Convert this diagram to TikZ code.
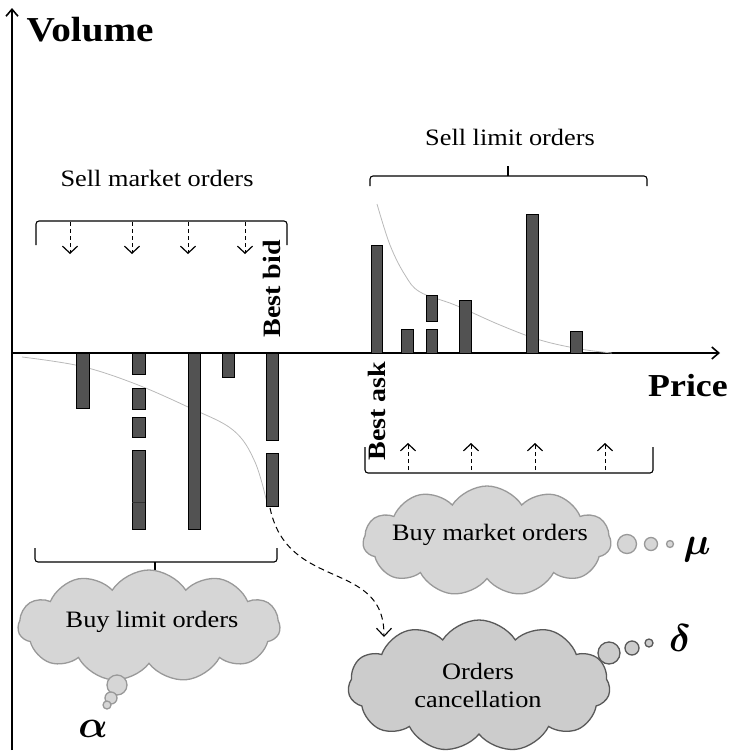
\documentclass[tikz,border=0pt]{standalone}
\usepackage{amsmath}
\usepackage{fontspec}
\setmainfont[FakeStretch=1.12]{Liberation Serif}
\usetikzlibrary{arrows.meta,shapes.symbols}
\newcommand{\bigsym}[1]{\scalebox{1.55}{\fontsize{24}{24}\selectfont$\boldsymbol{#1}$}}
\begin{document}
\begin{tikzpicture}[x=1pt,y=-1pt,
  axis/.style={line width=1.8pt,-{Straight Barb[length=7pt,width=12pt,line width=1.6pt]}},
  bar/.style={draw=black,fill=black!68,line width=0.8pt},
  lbl/.style={font=\rmfamily\fontsize{23.5}{28}\selectfont,align=center},
  bl/.style={font=\bfseries\fontsize{25}{28}\selectfont},
  bracket/.style={line width=1.1pt,rounded corners=3pt},
  darr/.style={dash pattern=on 4pt off 3pt,line width=1pt,-{Straight Barb[length=7pt,width=15pt,line width=1.2pt]}},
  carr/.style={dash pattern=on 6pt off 4pt,line width=1pt,-{Straight Barb[length=8pt,width=15pt,line width=1.1pt]}},
  trend/.style={gray!55,line width=0.8pt},
  cloudA/.style={cloud,cloud puffs=11,cloud puff arc=115,cloud ignores aspect,draw=black!40,fill=black!16,line width=1.3pt,inner sep=0pt},
  cloudB/.style={cloud,cloud puffs=11,cloud puff arc=115,cloud ignores aspect,draw=black!65,fill=black!20,line width=1.3pt,inner sep=0pt},
  bubA/.style={circle,draw=black!40,fill=black!16,line width=1.3pt,inner sep=0pt},
  bubB/.style={circle,draw=black!65,fill=black!20,line width=1.3pt,inner sep=0pt},
  greek/.style={inner sep=0pt}
]
\useasboundingbox (0,0) rectangle (737,755);

% axes
\coordinate (o) at (12,353);
\coordinate (ytop) at (12,8);
\coordinate (ybot) at (12,750);
\coordinate (xend) at (720,353);
\draw[axis] (ybot) -- (ytop);
\draw[axis] (o) -- (xend);
\node[font=\bfseries\fontsize{35}{35}\selectfont,anchor=west] (vol) at (23,30) {Volume};
\node[font=\bfseries\fontsize{32}{32}\selectfont] (price) at (688,386) {Price};

% trend curves
\draw[trend] plot[smooth,tension=0.6] coordinates {(22,357) (80,366) (133,383) (188,407) (233,430) (255,462) (268,507)};
\draw[trend] plot[smooth,tension=0.6] coordinates {(377,204) (390,245) (405,275) (420,292) (455,305) (500,325) (540,340) (580,349) (612,353)};

% buy limit bars (below axis)
\draw[bar] (76,353) rectangle (89,408);
\draw[bar] (132,353) rectangle (145,374);
\draw[bar] (132,388) rectangle (145,409);
\draw[bar] (132,417) rectangle (145,437);
\draw[bar] (132,450) rectangle (145,529);
\draw[black!80,line width=0.6pt] (132,502) -- (145,502);
\draw[bar] (188,353) rectangle (200,529);
\draw[bar] (222,353) rectangle (234,377);
\draw[bar] (266,353) rectangle (278,440);
\draw[bar] (266,453) rectangle (278,506);

% sell limit bars (above axis)
\draw[bar] (371,245) rectangle (382,353);
\draw[bar] (401,329) rectangle (413,353);
\draw[bar] (426,295) rectangle (437,321);
\draw[bar] (426,329) rectangle (437,353);
\draw[bar] (459,300) rectangle (471,353);
\draw[bar] (526,214) rectangle (538,353);
\draw[bar] (570,331) rectangle (582,353);

% sell market orders
\node[lbl] (smo) at (157,178) {Sell market orders};
\draw[bracket] (36,245) -- (36,221) -- (287,221) -- (287,245);
\foreach \x/\n in {70/a,132/b,188/c,245/d}{
  \coordinate (sm\n t) at (\x,222);
  \coordinate (sm\n b) at (\x,254);
  \draw[darr] (sm\n t) -- (sm\n b);
}
\node[bl,rotate=90] (bestbid) at (272,289) {Best bid};

% sell limit orders
\node[lbl] (slo) at (510,137) {Sell limit orders};
\draw[bracket] (370,186) -- (370,176) -- (647,176) -- (647,186);
\draw[line width=1.1pt] (508,176) -- (508,166);

% best ask
\node[bl,rotate=90] (bestask) at (377,411) {Best ask};

% buy market orders bracket
\draw[bracket] (365,447) -- (365,473) -- (653,473) -- (653,447);
\foreach \x/\n in {408/a,471/b,535/c,605/d}{
  \coordinate (bm\n b) at (\x,470);
  \coordinate (bm\n t) at (\x,443);
  \draw[darr] (bm\n b) -- (bm\n t);
}

% buy limit orders bracket
\draw[bracket] (35,548) -- (35,562) -- (277,562) -- (277,548);
\draw[line width=1.1pt] (155,562) -- (155,574);

% clouds
\node[cloudA,minimum width=262pt,minimum height=112pt] (blo) at (149,626) {};
\node[lbl] (blot) at (152,622) {Buy limit orders};
\node[bubA,minimum size=20pt] (ba1) at (117,685) {};
\node[bubA,minimum size=12pt] (ba2) at (111,698) {};
\node[bubA,minimum size=8pt] (ba3) at (107,705) {};
\node[greek] (alpha) at (93,729) {\bigsym{\alpha}};

\node[cloudA,minimum width=248pt,minimum height=110pt] (bmo) at (487,541) {};
\node[lbl] (bmot) at (490,535) {Buy market orders};
\node[bubA,minimum size=19pt] (bm1) at (627,544) {};
\node[bubA,minimum size=13pt] (bm2) at (651,544) {};
\node[bubA,minimum size=7pt] (bm3) at (670,544) {};
\node[greek] (mu) at (697,550) {\bigsym{\mu}};

\node[cloudB,minimum width=262pt,minimum height=132pt] (oc) at (479,686) {};
\node[lbl] (oct) at (478,685) {\rmfamily Orders\\\rmfamily cancellation};
\node[bubB,minimum size=22pt] (bc1) at (609,653) {};
\node[bubB,minimum size=14pt] (bc2) at (632,648) {};
\node[bubB,minimum size=8pt] (bc3) at (649,643) {};
\node[greek] (delta) at (680,638) {\bigsym{\delta}};

% cancellation arrow
\coordinate (cs) at (270,508);
\coordinate (ce) at (384,637);
\draw[carr] (cs) .. controls (282,565) and (330,568) .. (360,588) .. controls (378,600) and (384,615) .. (ce);
\end{tikzpicture}
\end{document}
